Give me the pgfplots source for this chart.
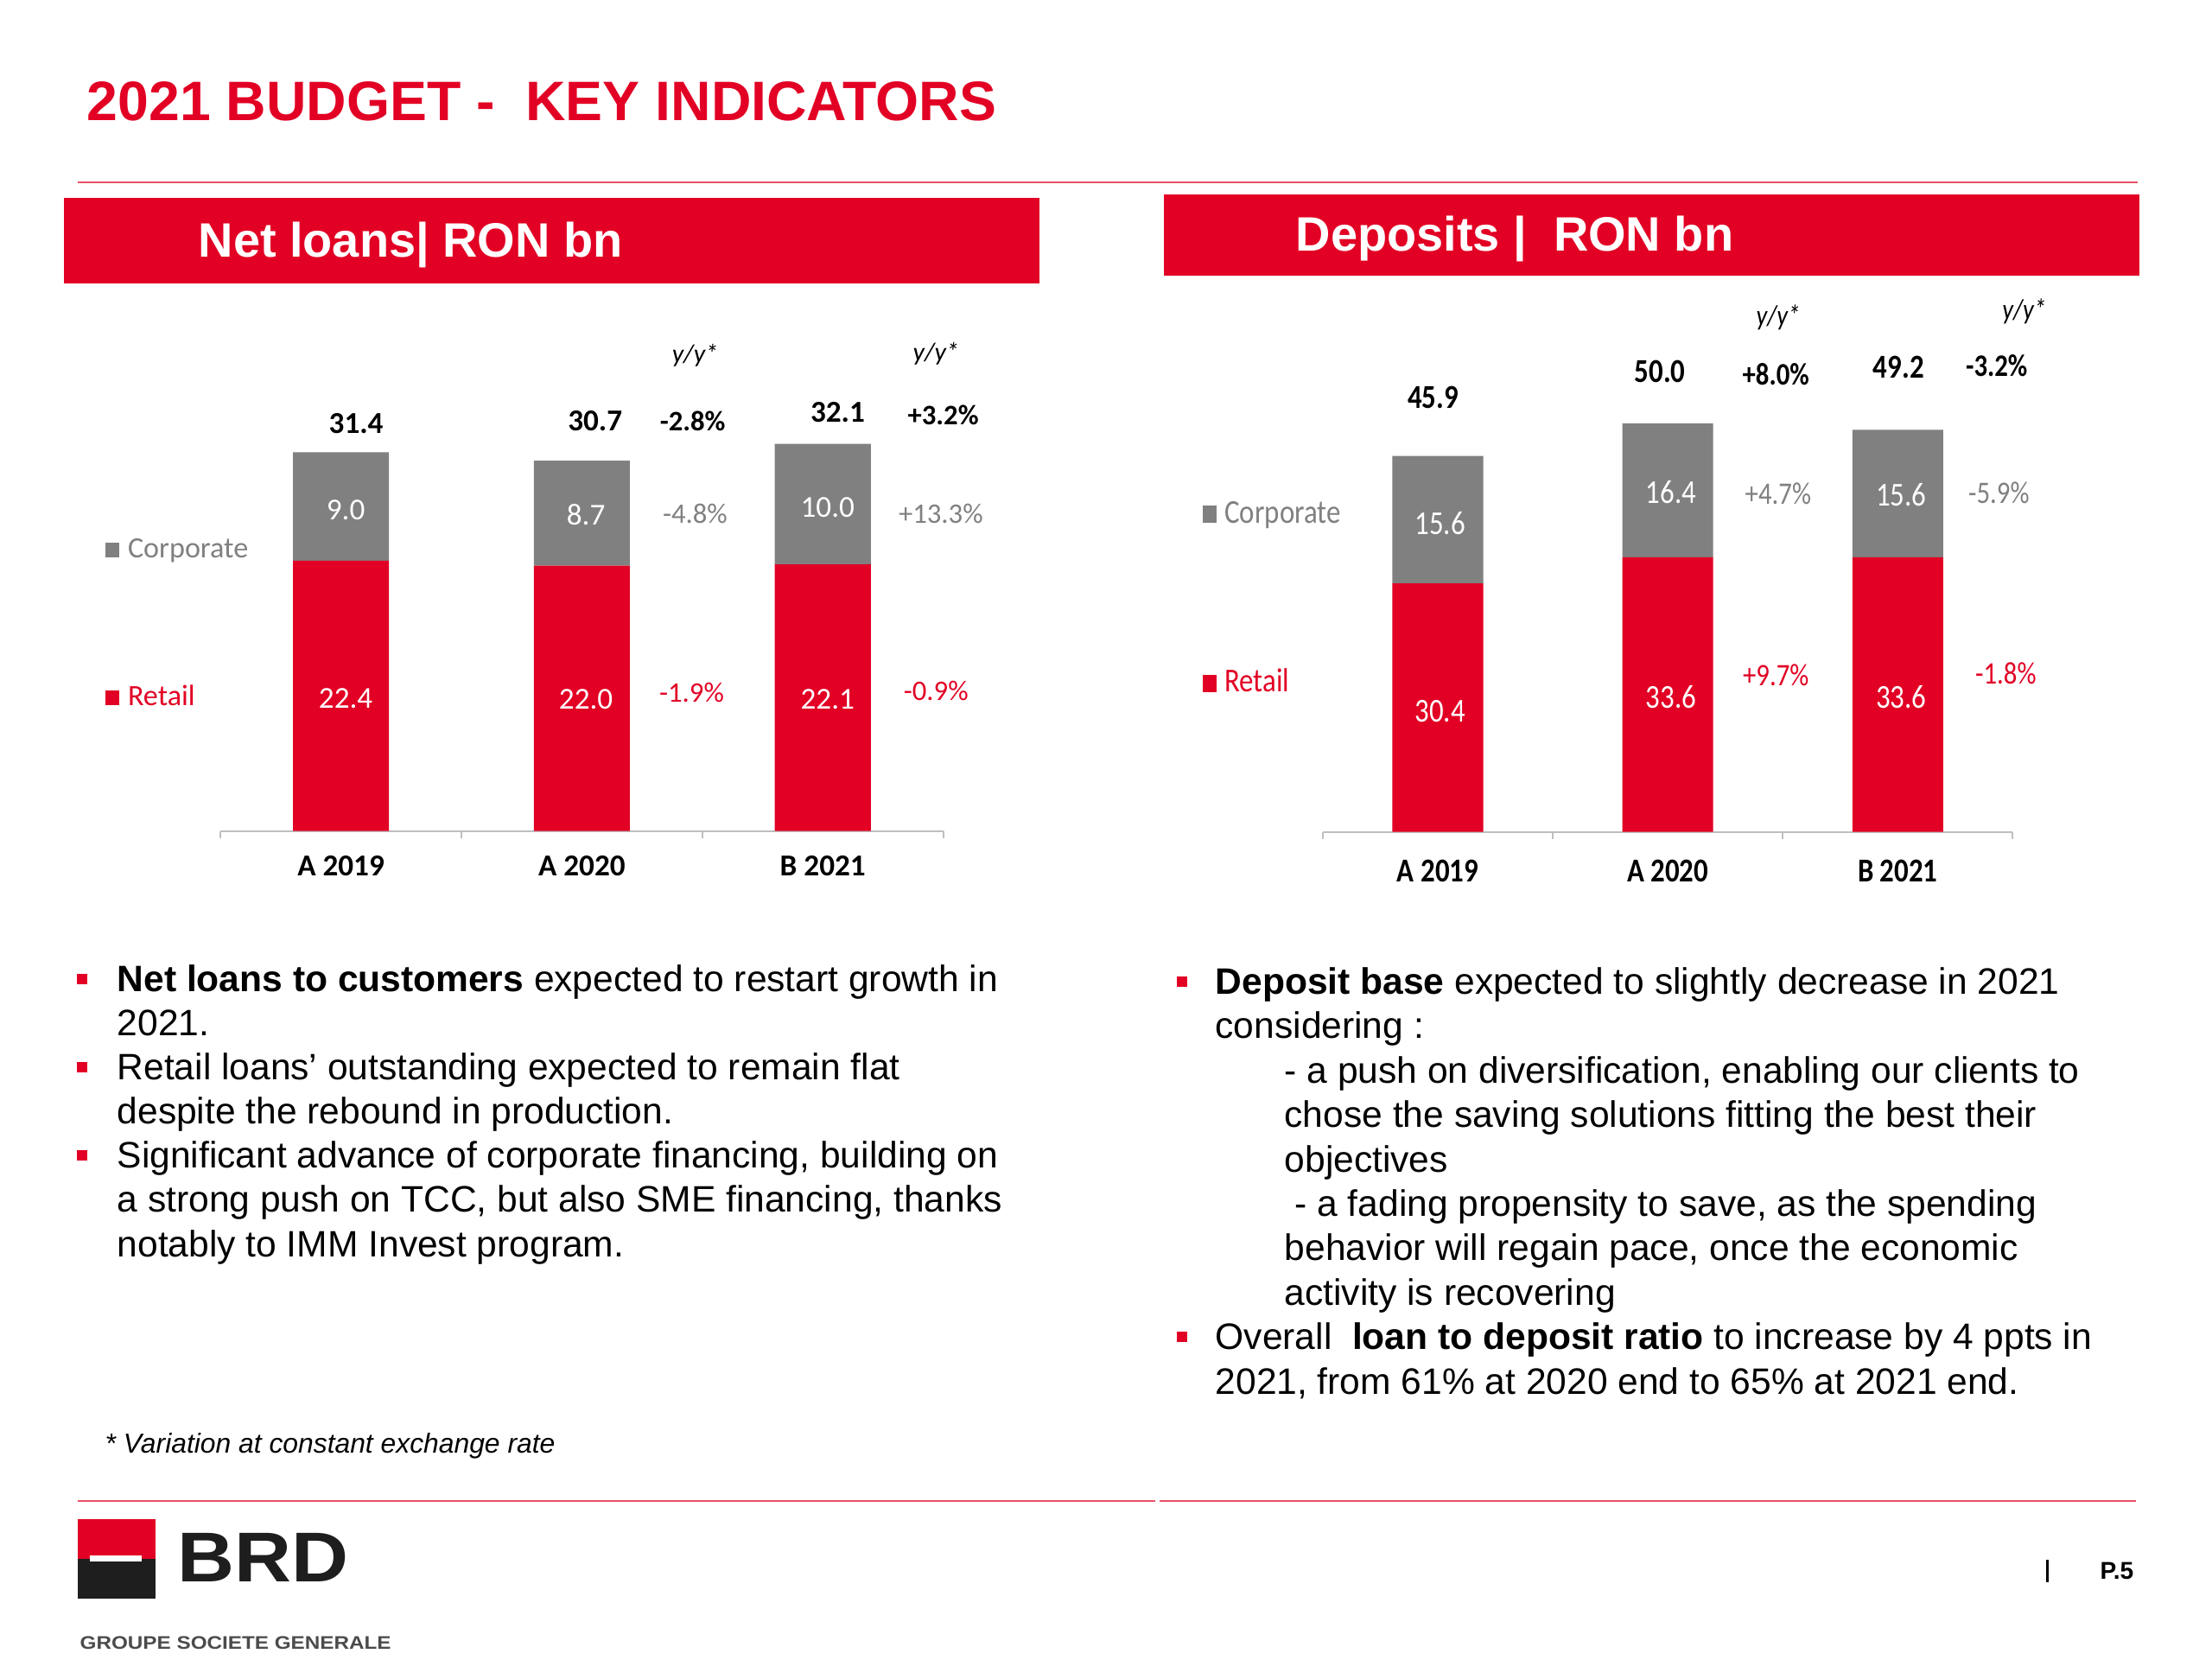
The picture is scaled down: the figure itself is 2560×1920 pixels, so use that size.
\documentclass[border=0pt]{standalone}
\usepackage{pgfplots}
\pgfplotsset{compat=1.18}
\usepackage{fontspec}
\setmainfont{Liberation Sans}
\newfontfamily\chartL{Carlito}
\newfontfamily\chartR{Carlito}[FakeStretch=0.85]
\newfontfamily\logofont{Liberation Sans}[FakeStretch=1.12]
\newfontfamily\groupfont{Liberation Sans}[FakeStretch=1.15]

\definecolor{sgred}{RGB}{226,0,36}
\definecolor{bargray}{RGB}{128,128,128}
\definecolor{axgray}{RGB}{191,191,191}
\definecolor{rulered}{RGB}{232,80,105}
\definecolor{logoblack}{RGB}{30,30,30}
\definecolor{groupgray}{RGB}{75,75,75}

% body text line and bullet
\newcommand{\bodyline}[3]{\node[anchor=base west,inner sep=0pt,font=\fontsize{12.1}{14.6}\selectfont] at (#1,#2) {#3};}
\newcommand{\bulletsq}[2]{\fill[sgred] (#1,#2-20) rectangle (#1+12,#2-8);}

\pgfplotsset{
  loansframe/.style={at={(2.55cm,-9.61cm)}, anchor=south west,
    scale only axis, width=8.36cm, height=5.58cm,
    xmin=-0.5, xmax=2.5, ymin=0, ymax=40, clip=false},
  depframe/.style={at={(15.30cm,-9.62cm)}, anchor=south west,
    scale only axis, width=7.98cm, height=5.67cm,
    xmin=-0.5, xmax=2.5, ymin=0, ymax=60, clip=false},
  barchart/.style={ybar stacked, axis x line*=bottom, hide y axis,
    xtick={0,1,2}, xticklabels={A 2019,A 2020,B 2021},
    minor xtick={-0.5,0.5,1.5,2.5},
    major tick length=0pt, minor tick length=0.08cm, tick align=outside,
    x axis line style={draw=axgray,line width=0.02cm},
    every tick/.style={draw=axgray,line width=0.02cm}},
}

\begin{document}
\begin{tikzpicture}
\begin{scope}[x=0.01cm,y=-0.01cm]
\path[use as bounding box] (0,0) rectangle (2560,1920);
\fill[white] (0,0) rectangle (2560,1920);

% title and rules
\node[anchor=base west,inner sep=0pt,text=sgred,font=\bfseries\fontsize{18.3}{20}\selectfont] at (100,139) {2021 BUDGET -\ \ KEY INDICATORS};
\draw[rulered,line width=0.025cm] (90,211) -- (2474,211);
\draw[rulered,line width=0.025cm] (90,1737) -- (1337,1737);
\draw[rulered,line width=0.025cm] (1342,1737) -- (2472,1737);

% banners
\fill[sgred] (74,229) rectangle (1203,328);
\fill[sgred] (1347,225) rectangle (2476,319);
\node[anchor=base west,inner sep=0pt,text=white,font=\bfseries\fontsize{15.9}{18}\selectfont] at (229,297) {Net loans| RON bn};
\node[anchor=base west,inner sep=0pt,text=white,font=\bfseries\fontsize{15.9}{18}\selectfont] at (1499,290) {Deposits |\ \ RON bn};

% left comments
\bulletsq{89}{1147}
\bodyline{135}{1147}{\textbf{Net loans to customers} expected to restart growth in}
\bodyline{135}{1198}{2021.}
\bulletsq{89}{1249}
\bodyline{135}{1249}{Retail loans’ outstanding expected to remain flat}
\bodyline{135}{1300}{despite the rebound in production.}
\bulletsq{89}{1351}
\bodyline{135}{1351}{Significant advance of corporate financing, building on}
\bodyline{135}{1402}{a strong push on TCC, but also SME financing, thanks}
\bodyline{135}{1454}{notably to IMM Invest program.}

% right comments
\bulletsq{1362}{1150}
\bodyline{1406}{1150}{\textbf{Deposit base} expected to slightly decrease in 2021}
\bodyline{1406}{1201}{considering :}
\bodyline{1486}{1253}{- a push on diversification, enabling our clients to}
\bodyline{1486}{1304}{chose the saving solutions fitting the best their}
\bodyline{1486}{1356}{objectives}
\bodyline{1486}{1407}{\ - a fading propensity to save, as the spending}
\bodyline{1486}{1458}{behavior will regain pace, once the economic}
\bodyline{1486}{1510}{activity is recovering}
\bulletsq{1362}{1561}
\bodyline{1406}{1561}{Overall\ \ \textbf{loan to deposit ratio} to increase by 4 ppts in}
\bodyline{1406}{1613}{2021, from 61\% at 2020 end to 65\% at 2021 end.}

\node[anchor=base west,inner sep=0pt,font=\itshape\fontsize{9.05}{11}\selectfont] at (121,1681) {* Variation at constant exchange rate};

% logo
\fill[sgred] (90,1758) rectangle (180,1804);
\fill[logoblack] (90,1804) rectangle (180,1850);
\fill[white] (104,1800) rectangle (164,1807);
\node[anchor=base west,inner sep=0pt,text=logoblack,font=\logofont\bfseries\fontsize{23.2}{24}\selectfont] at (205,1830) {BRD};
\node[anchor=base west,inner sep=0pt,text=groupgray,font=\groupfont\bfseries\fontsize{6.0}{7}\selectfont] at (92,1908) {GROUPE SOCIETE GENERALE};

% page number
\draw[black,line width=0.03cm] (2369,1805) -- (2369,1831);
\node[anchor=base west,inner sep=0pt,font=\bfseries\fontsize{8}{9}\selectfont] at (2430,1827) {P.5};
\end{scope}

% ---- Net loans: bars
\begin{axis}[loansframe, barchart, bar width=1.11cm,
  xticklabel style={font=\chartL\bfseries\fontsize{10}{12}\selectfont,anchor=base,yshift=-0.52cm}]
\addplot[fill=sgred,draw=none] coordinates {(0,22.4) (1,22.0) (2,22.1)};
\addplot[fill=bargray,draw=none] coordinates {(0,9.0) (1,8.7) (2,10.0)};
\end{axis}
% ---- Net loans: labels on top
\begin{axis}[loansframe, hide axis]
% totals
\node[font=\chartL\bfseries\fontsize{10}{12}\selectfont] at (axis cs:0.063,33.8) {31.4};
\node[font=\chartL\bfseries\fontsize{10}{12}\selectfont] at (axis cs:1.055,34.0) {30.7};
\node[font=\chartL\bfseries\fontsize{10}{12}\selectfont] at (axis cs:2.062,34.7) {32.1};
% segments
\node[text=white,font=\chartL\fontsize{10}{12}\selectfont] at (axis cs:0.02,26.6) {9.0};
\node[text=white,font=\chartL\fontsize{10}{12}\selectfont] at (axis cs:1.017,26.2) {8.7};
\node[text=white,font=\chartL\fontsize{10}{12}\selectfont] at (axis cs:2.02,26.8) {10.0};
\node[text=white,font=\chartL\fontsize{10}{12}\selectfont] at (axis cs:0.02,11.0) {22.4};
\node[text=white,font=\chartL\fontsize{10}{12}\selectfont] at (axis cs:1.017,10.9) {22.0};
\node[text=white,font=\chartL\fontsize{10}{12}\selectfont] at (axis cs:2.02,10.9) {22.1};
% y/y
\node[font=\chartL\itshape\fontsize{8.5}{10}\selectfont] at (axis cs:1.47,39.4) {y/y*};
\node[font=\chartL\itshape\fontsize{8.5}{10}\selectfont] at (axis cs:2.47,39.6) {y/y*};
\node[font=\chartL\bfseries\fontsize{9.3}{11}\selectfont] at (axis cs:1.46,34.0) {-2.8\%};
\node[font=\chartL\bfseries\fontsize{9.3}{11}\selectfont] at (axis cs:2.50,34.5) {+3.2\%};
\node[text=bargray,font=\chartL\fontsize{9.3}{11}\selectfont] at (axis cs:1.47,26.3) {-4.8\%};
\node[text=bargray,font=\chartL\fontsize{9.3}{11}\selectfont] at (axis cs:2.49,26.3) {+13.3\%};
\node[text=sgred,font=\chartL\fontsize{9.3}{11}\selectfont] at (axis cs:1.456,11.5) {-1.9\%};
\node[text=sgred,font=\chartL\fontsize{9.3}{11}\selectfont] at (axis cs:2.47,11.6) {-0.9\%};
% legend
\node[anchor=base west,inner sep=0pt,text=bargray,font=\chartL\fontsize{9.7}{11}\selectfont] at (axis cs:-0.98,22.65) {\rule{0.16cm}{0.17cm}\hspace{0.1cm}Corporate};
\node[anchor=base west,inner sep=0pt,text=sgred,font=\chartL\fontsize{9.7}{11}\selectfont] at (axis cs:-0.98,10.4) {\rule{0.16cm}{0.17cm}\hspace{0.1cm}Retail};
\end{axis}

% ---- Deposits: bars
\begin{axis}[depframe, barchart, bar width=1.05cm,
  xticklabel style={font=\chartR\bfseries\fontsize{11}{13}\selectfont,anchor=base,yshift=-0.58cm}]
\addplot[fill=sgred,draw=none] coordinates {(0,30.4) (1,33.6) (2,33.6)};
\addplot[fill=bargray,draw=none] coordinates {(0,15.6) (1,16.4) (2,15.6)};
\end{axis}
% ---- Deposits: labels on top
\begin{axis}[depframe, hide axis]
% totals
\node[font=\chartR\bfseries\fontsize{11}{13}\selectfont] at (axis cs:-0.02,53.2) {45.9};
\node[font=\chartR\bfseries\fontsize{11}{13}\selectfont] at (axis cs:0.966,56.3) {50.0};
\node[font=\chartR\bfseries\fontsize{11}{13}\selectfont] at (axis cs:2.004,56.9) {49.2};
% segments
\node[text=white,font=\chartR\fontsize{11}{13}\selectfont] at (axis cs:0.01,37.8) {15.6};
\node[text=white,font=\chartR\fontsize{11}{13}\selectfont] at (axis cs:1.015,41.6) {16.4};
\node[text=white,font=\chartR\fontsize{11}{13}\selectfont] at (axis cs:2.015,41.2) {15.6};
\node[text=white,font=\chartR\fontsize{11}{13}\selectfont] at (axis cs:0.01,14.8) {30.4};
\node[text=white,font=\chartR\fontsize{11}{13}\selectfont] at (axis cs:1.015,16.5) {33.6};
\node[text=white,font=\chartR\fontsize{11}{13}\selectfont] at (axis cs:2.015,16.5) {33.6};
% y/y
\node[font=\chartR\itshape\fontsize{9.5}{11}\selectfont] at (axis cs:1.48,63.0) {y/y*};
\node[font=\chartR\itshape\fontsize{9.5}{11}\selectfont] at (axis cs:2.55,63.7) {y/y*};
\node[font=\chartR\bfseries\fontsize{10.3}{12}\selectfont] at (axis cs:1.47,56.0) {+8.0\%};
\node[font=\chartR\bfseries\fontsize{10.3}{12}\selectfont] at (axis cs:2.43,57.1) {-3.2\%};
\node[text=bargray,font=\chartR\fontsize{10.3}{12}\selectfont] at (axis cs:1.48,41.4) {+4.7\%};
\node[text=bargray,font=\chartR\fontsize{10.3}{12}\selectfont] at (axis cs:2.44,41.5) {-5.9\%};
\node[text=sgred,font=\chartR\fontsize{10.3}{12}\selectfont] at (axis cs:1.47,19.2) {+9.7\%};
\node[text=sgred,font=\chartR\fontsize{10.3}{12}\selectfont] at (axis cs:2.47,19.4) {-1.8\%};
% legend
\node[anchor=base west,inner sep=0pt,text=bargray,font=\chartR\fontsize{11}{13}\selectfont] at (axis cs:-1.023,37.8) {\rule{0.16cm}{0.2cm}\hspace{0.09cm}Corporate};
\node[anchor=base west,inner sep=0pt,text=sgred,font=\chartR\fontsize{11}{13}\selectfont] at (axis cs:-1.023,17.1) {\rule{0.16cm}{0.2cm}\hspace{0.09cm}Retail};
\end{axis}
\end{tikzpicture}
\end{document}
